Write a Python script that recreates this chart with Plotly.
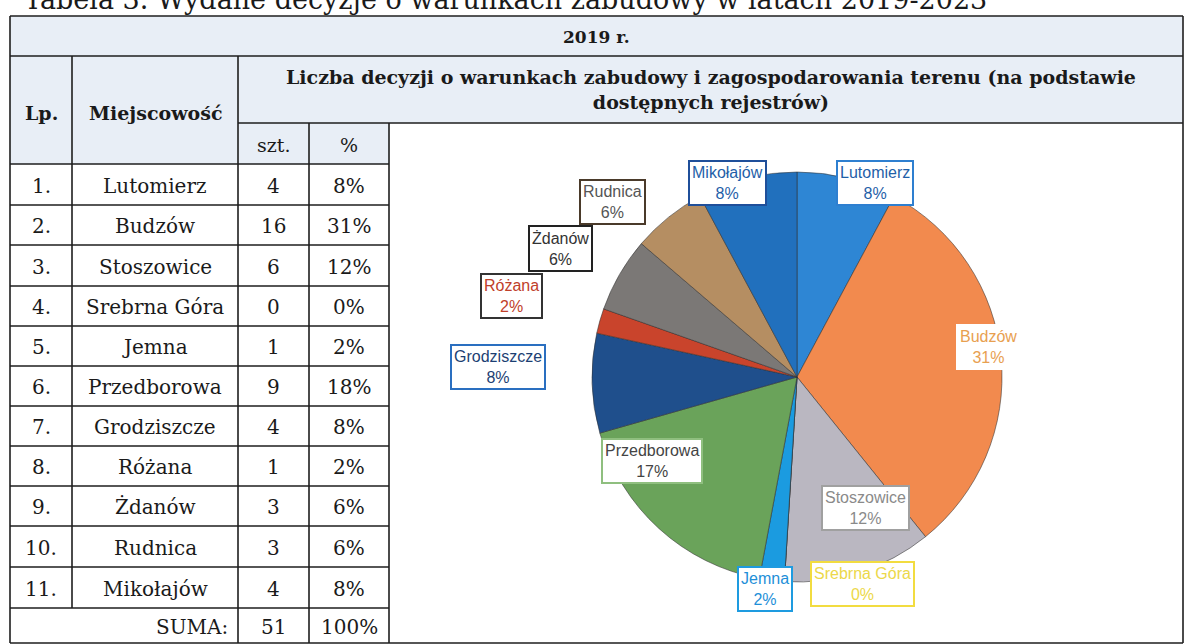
import math
import plotly.graph_objects as go

# ---------------- data ----------------
lp = ["1.", "2.", "3.", "4.", "5.", "6.", "7.", "8.", "9.", "10.", "11."]
places = ["Lutomierz", "Budzów", "Stoszowice", "Srebrna Góra", "Jemna", "Przedborowa",
          "Grodziszcze", "Różana", "Żdanów", "Rudnica", "Mikołajów"]
counts = [4, 16, 6, 0, 1, 9, 4, 1, 3, 3, 4]
table_pct = ["8%", "31%", "12%", "0%", "2%", "18%", "8%", "2%", "6%", "6%", "8%"]
pie_pct = ["8%", "31%", "12%", "0%", "2%", "17%", "8%", "2%", "6%", "6%", "8%"]
sum_count = "51"
sum_pct = "100%"

title_text = "Tabela 3. Wydane decyzje o warunkach zabudowy w latach 2019-2023"
year_text = "2019 r."
header_text = ("Liczba decyzji o warunkach zabudowy i zagospodarowania terenu (na podstawie<br>"
               "dostępnych rejestrów)")

# ---------------- style ----------------
W, H = 1189, 644
slice_colors = ["#2e86d4", "#f28a4e", "#bab7c1", "#f2de3a", "#1b9be0", "#6aa35a",
                "#1f4f8c", "#c9442c", "#7b7876", "#b58e62", "#2170bd"]
label_text_colors = ["#1f5fa8", "#e8a050", "#8a8a8a", "#ecd84a", "#1e8fd8", "#444444",
                     "#1d3f73", "#c0402a", "#333333", "#555555", "#1f5fa8"]
label_border_colors = ["#2e7fd0", "#ffffff", "#a0a0a0", "#f2dc40", "#1e9be0", "#8fbf7f",
                       "#2a6fc0", "#333333", "#222222", "#4a3a2a", "#1f4f9a"]
label_r = [1.0, 0.94, 0.73, 1.03, 1.03, 0.7, 1.46, 1.45, 1.31, 1.23, 1.0]
label_dx = [28, 0, 23, 78, -6, -48, 0, 0, -4, -26, -19]
label_dy = [5, -12, -12, -4, 2, -22, -19, 0, 6, 21, 5]

SERIF = "DejaVu Serif"
SANS = "Liberation Sans"
LINE = "#1e1e1e"
TINT = "#e8eef6"

col_x = [10, 72, 238, 309, 389]
right_x = 1183
top_y, year_y, head_mid_y = 16, 56, 123
row_y = [164, 205, 245, 286, 326, 366, 406, 446, 486, 526, 567, 608, 643]

pie_cx, pie_cy, pie_R = 797, 377, 205


def X(px):
    return px / W


def Y(py):
    return 1 - py / H


fig = go.Figure()

fig.add_trace(go.Pie(
    labels=places,
    values=counts,
    sort=False,
    direction="clockwise",
    rotation=0,
    textinfo="none",
    hoverinfo="label+value",
    marker=dict(colors=slice_colors, line=dict(color="rgba(50,50,50,0.55)", width=1)),
    domain=dict(x=[X(pie_cx - pie_R), X(pie_cx + pie_R)],
                y=[Y(pie_cy + pie_R), Y(pie_cy - pie_R)]),
    showlegend=False,
))

shapes = []
# tinted header cells
for (x0, y0, x1, y1) in [(col_x[0], top_y, right_x, year_y),
                         (col_x[0], year_y, col_x[2], row_y[0]),
                         (col_x[2], year_y, right_x, head_mid_y),
                         (col_x[2], head_mid_y, col_x[4], row_y[0])]:
    shapes.append(dict(type="rect", xref="paper", yref="paper", x0=X(x0), x1=X(x1),
                       y0=Y(y1), y1=Y(y0), fillcolor=TINT, line=dict(width=0), layer="below"))


def hline(x0, x1, y):
    shapes.append(dict(type="line", xref="paper", yref="paper", x0=X(x0), x1=X(x1),
                       y0=Y(y), y1=Y(y), line=dict(color=LINE, width=1.6)))


def vline(x, y0, y1):
    shapes.append(dict(type="line", xref="paper", yref="paper", x0=X(x), x1=X(x),
                       y0=Y(y0), y1=Y(y1), line=dict(color=LINE, width=1.6)))


hline(col_x[0], right_x, top_y)
hline(col_x[0], right_x, year_y)
hline(col_x[2], right_x, head_mid_y)
for y in row_y[:-1]:
    hline(col_x[0], col_x[4], y)
hline(col_x[0], right_x, row_y[-1])
vline(col_x[0], top_y, row_y[-1])
vline(right_x, top_y, row_y[-1])
vline(col_x[1], year_y, row_y[-2])
vline(col_x[2], year_y, row_y[-1])
vline(col_x[3], head_mid_y, row_y[-1])
vline(col_x[4], head_mid_y, row_y[-1])

ann = []


def txt(x, y, s, size=20, bold=False, family=SERIF, xanchor="center", color="#1a1a1a"):
    ann.append(dict(xref="paper", yref="paper", x=X(x), y=Y(y), text=("<b>%s</b>" % s) if bold else s,
                    showarrow=False, xanchor=xanchor, yanchor="middle",
                    font=dict(family=family, size=size, color=color)))


# title (cut at top as in the scan)
txt(22, -1, title_text, size=27, xanchor="left")
txt((col_x[0] + right_x) / 2, (top_y + year_y) / 2 + 1, year_text, size=17, bold=True)
txt((col_x[0] + col_x[1]) / 2, 113, "Lp.", size=19, bold=True)
txt((col_x[1] + col_x[2]) / 2, 113, "Miejscowość", size=19, bold=True)
ann.append(dict(xref="paper", yref="paper", x=X((col_x[2] + right_x) / 2), y=Y(89),
                text="<b>" + header_text + "</b>", showarrow=False, xanchor="center",
                yanchor="middle", align="center",
                font=dict(family=SERIF, size=19, color="#1a1a1a")))
txt((col_x[2] + col_x[3]) / 2, 145, "szt.", size=19)
txt((col_x[3] + col_x[4]) / 2, 145, "%", size=19)

for i in range(len(places)):
    yc = (row_y[i] + row_y[i + 1]) / 2 + 1
    txt((col_x[0] + col_x[1]) / 2, yc, lp[i])
    txt((col_x[1] + col_x[2]) / 2, yc, places[i])
    txt((col_x[2] + col_x[3]) / 2, yc, str(counts[i]))
    txt((col_x[3] + col_x[4]) / 2, yc, table_pct[i])

yc = (row_y[-2] + row_y[-1]) / 2 + 1
txt(col_x[2] - 8, yc, "SUMA:", xanchor="right")
txt((col_x[2] + col_x[3]) / 2, yc, sum_count)
txt((col_x[3] + col_x[4]) / 2, yc, sum_pct)

# pie labels placed from the slice mid-angles
total = sum(counts)
cum = 0
for i, v in enumerate(counts):
    mid = (cum + v / 2) / total * 2 * math.pi
    cum += v
    px = pie_cx + label_r[i] * pie_R * math.sin(mid) + label_dx[i]
    py = pie_cy - label_r[i] * pie_R * math.cos(mid) + label_dy[i]
    ann.append(dict(xref="paper", yref="paper", x=X(px), y=Y(py),
                    text=places[i] + "<br>" + pie_pct[i], showarrow=False,
                    xanchor="center", yanchor="middle", align="center",
                    bgcolor="white", bordercolor=label_border_colors[i], borderwidth=2,
                    borderpad=2,
                    font=dict(family=SANS, size=16, color=label_text_colors[i])))

fig.update_layout(
    width=W, height=H,
    margin=dict(l=0, r=0, t=0, b=0),
    paper_bgcolor="white",
    plot_bgcolor="white",
    shapes=shapes,
    annotations=ann,
    xaxis=dict(visible=False),
    yaxis=dict(visible=False),
)

fig.write_html("out.html", config={"displayModeBar": False},
               post_script="document.body.style.margin='0';")
